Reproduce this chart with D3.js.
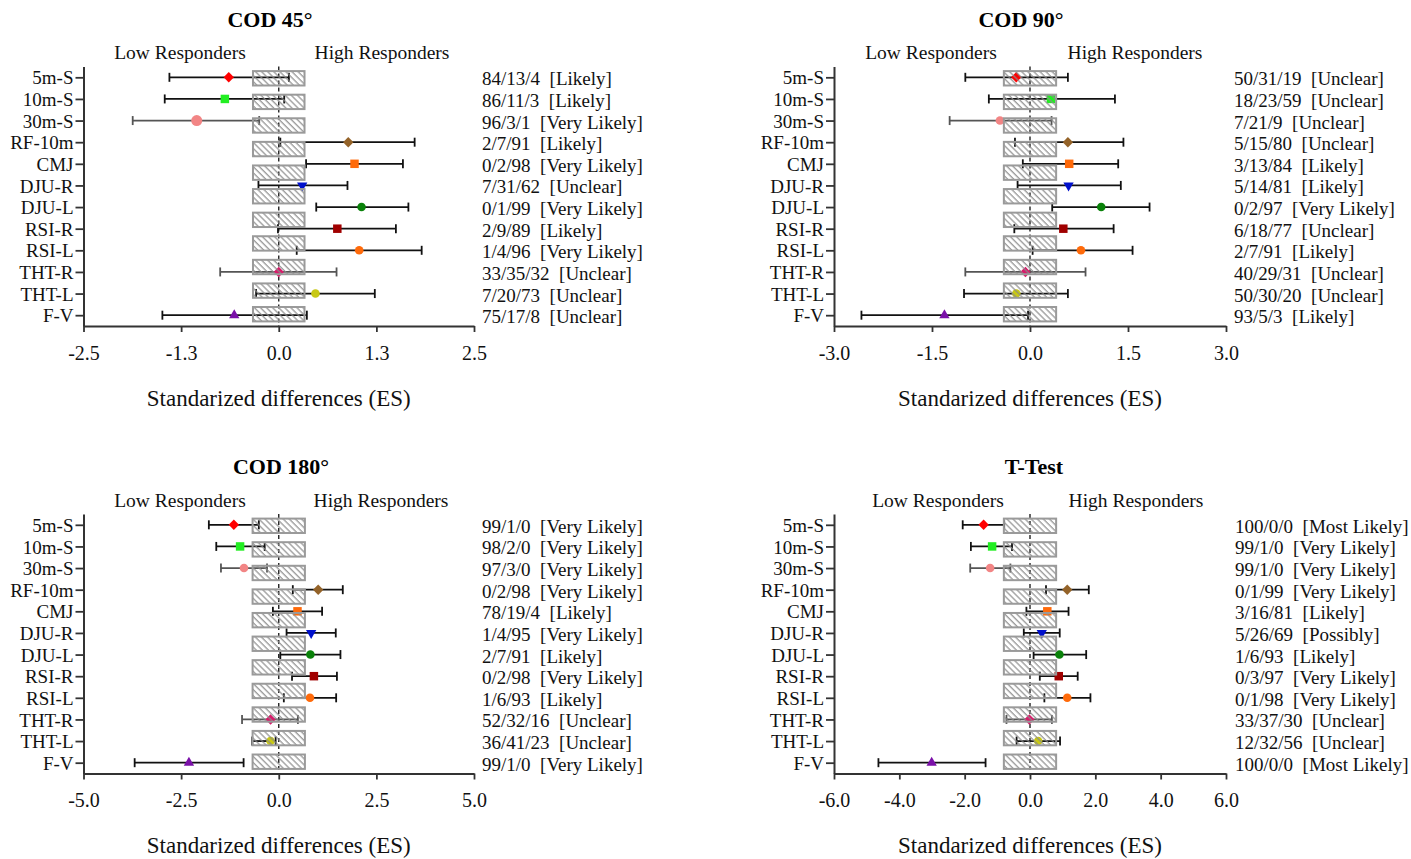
<!DOCTYPE html>
<html><head><meta charset="utf-8">
<script src="https://cdn.jsdelivr.net/npm/d3@7"></script>
<style>body{margin:0;background:#fff;} svg{display:block;}</style>
</head><body>
<script>
// ---------- data ----------
const categories = ["5m-S","10m-S","30m-S","RF-10m","CMJ","DJU-R","DJU-L","RSI-R","RSI-L","THT-R","THT-L","F-V"];
const panelTitles = ["COD 45°","COD 90°","COD 180°","T-Test"];

const cod45_es = [-0.64,-0.69,-1.05,0.89,0.97,0.30,1.06,0.75,1.03,0.00,0.47,-0.57];
const cod45_lo = [-1.40,-1.46,-1.87,0.02,0.35,-0.26,0.48,-0.01,0.23,-0.75,-0.29,-1.49];
const cod45_hi = [0.13,0.07,-0.25,1.74,1.59,0.88,1.66,1.50,1.83,0.74,1.23,0.36];
const cod45_text = ["84/13/4  [Likely]","86/11/3  [Likely]","96/3/1  [Very Likely]","2/7/91  [Likely]","0/2/98  [Very Likely]","7/31/62  [Unclear]","0/1/99  [Very Likely]","2/9/89  [Likely]","1/4/96  [Very Likely]","33/35/32  [Unclear]","7/20/73  [Unclear]","75/17/8  [Unclear]"];

const cod90_es = [-0.21,0.32,-0.46,0.58,0.60,0.59,1.09,0.51,0.78,-0.07,-0.21,-1.31];
const cod90_lo = [-0.99,-0.63,-1.23,-0.23,-0.11,-0.19,0.34,-0.24,0.04,-0.99,-1.01,-2.58];
const cod90_hi = [0.58,1.30,0.33,1.43,1.35,1.39,1.83,1.28,1.57,0.85,0.58,-0.03];
const cod90_text = ["50/31/19  [Unclear]","18/23/59  [Unclear]","7/21/9  [Unclear]","5/15/80  [Unclear]","3/13/84  [Likely]","5/14/81  [Likely]","0/2/97  [Very Likely]","6/18/77  [Unclear]","2/7/91  [Likely]","40/29/31  [Unclear]","50/30/20  [Unclear]","93/5/3  [Likely]"];

const cod180_es = [-1.15,-0.99,-0.89,1.01,0.48,0.83,0.81,0.90,0.80,-0.21,-0.21,-2.30];
const cod180_lo = [-1.79,-1.60,-1.48,0.36,-0.15,0.20,0.04,0.34,0.13,-0.94,-0.68,-3.69];
const cod180_hi = [-0.51,-0.36,-0.30,1.64,1.11,1.46,1.58,1.49,1.47,0.49,-0.08,-0.90];
const cod180_text = ["99/1/0  [Very Likely]","98/2/0  [Very Likely]","97/3/0  [Very Likely]","0/2/98  [Very Likely]","78/19/4  [Likely]","1/4/95  [Very Likely]","2/7/91  [Likely]","0/2/98  [Very Likely]","1/6/93  [Likely]","52/32/16  [Unclear]","36/41/23  [Unclear]","99/1/0  [Very Likely]"];

const ttest_es = [-1.42,-1.16,-1.22,1.14,0.53,0.36,0.90,0.88,1.14,-0.02,0.25,-3.01];
const ttest_lo = [-2.06,-1.81,-1.83,0.49,-0.11,-0.19,0.11,0.30,0.44,-0.72,-0.41,-4.64];
const ttest_hi = [-0.79,-0.55,-0.60,1.80,1.18,0.91,1.72,1.46,1.85,0.67,0.92,-1.36];
const ttest_text = ["100/0/0  [Most Likely]","99/1/0  [Very Likely]","99/1/0  [Very Likely]","0/1/99  [Very Likely]","3/16/81  [Likely]","5/26/69  [Possibly]","1/6/93  [Likely]","0/3/97  [Very Likely]","0/1/98  [Very Likely]","33/37/30  [Unclear]","12/32/56  [Unclear]","100/0/0  [Most Likely]"];

const cod45_ticks = [-2.5,-1.25,0,1.25,2.5];
const cod45_tickLabels = ["-2.5","-1.3","0.0","1.3","2.5"];
const cod90_ticks = [-3,-1.5,0,1.5,3];
const cod90_tickLabels = ["-3.0","-1.5","0.0","1.5","3.0"];
const cod180_ticks = [-5,-2.5,0,2.5,5];
const cod180_tickLabels = ["-5.0","-2.5","0.0","2.5","5.0"];
const ttest_ticks = [-6,-4,-2,0,2,4,6];
const ttest_tickLabels = ["-6.0","-4.0","-2.0","0.0","2.0","4.0","6.0"];

const trivialZone = [0.33, 0.40, 0.67, 0.80];   // half-width of trivial (hatched) zone per panel
const zoneBands = 11;                            // number of hatched boxes drawn per panel
const axisTitle = "Standarized differences (ES)";
const lowLabel = "Low Responders", highLabel = "High Responders";

// ---------- styling ----------
const markerStyle = {
  "5m-S":  {shape:"diamond", color:"#ff0000"},
  "10m-S": {shape:"square",  color:"#22ee22"},
  "30m-S": {shape:"circle",  color:"#f28585"},
  "RF-10m":{shape:"diamond", color:"#946329"},
  "CMJ":   {shape:"square",  color:"#ff6a0a"},
  "DJU-R": {shape:"tridown", color:"#0010cc"},
  "DJU-L": {shape:"circle",  color:"#0a820a"},
  "RSI-R": {shape:"square",  color:"#a00000"},
  "RSI-L": {shape:"circle",  color:"#ff6a0a"},
  "THT-R": {shape:"diamond", color:"#d81b6a"},
  "THT-L": {shape:"circle",  color:"#c8c814"},
  "F-V":   {shape:"triup",   color:"#7a10a8"}
};
const lineColor = {"30m-S":"#555","THT-R":"#555"};
const FONT = "'Liberation Serif','Times New Roman',serif";

const panels = [
  {title:panelTitles[0], es:cod45_es, lo:cod45_lo, hi:cod45_hi, text:cod45_text, ticks:cod45_ticks, tickLabels:cod45_tickLabels, zone:trivialZone[0],
   x0:83.5, x1:474, top:66.5, bottom:326, titleX:270, lowX:180, highX:382, textX:482, bigCircle:true},
  {title:panelTitles[1], es:cod90_es, lo:cod90_lo, hi:cod90_hi, text:cod90_text, ticks:cod90_ticks, tickLabels:cod90_tickLabels, zone:trivialZone[1],
   x0:834, x1:1226, top:66.5, bottom:326, titleX:1021, lowX:931, highX:1135, textX:1234},
  {title:panelTitles[2], es:cod180_es, lo:cod180_lo, hi:cod180_hi, text:cod180_text, ticks:cod180_ticks, tickLabels:cod180_tickLabels, zone:trivialZone[2],
   x0:83.5, x1:474, top:514, bottom:773.5, titleX:281, lowX:180, highX:381, textX:482},
  {title:panelTitles[3], es:ttest_es, lo:ttest_lo, hi:ttest_hi, text:ttest_text, ticks:ttest_ticks, tickLabels:ttest_tickLabels, zone:trivialZone[3],
   x0:834, x1:1226, top:514, bottom:773.5, titleX:1034, lowX:938, highX:1136, textX:1235}
];

const svg = d3.select("body").append("svg").attr("width",1411).attr("height",859)
  .style("font-family",FONT);
svg.append("rect").attr("width",1411).attr("height",859).attr("fill","#fff");

const defs = svg.append("defs");
const pat = defs.append("pattern").attr("id","hatch").attr("patternUnits","userSpaceOnUse")
  .attr("width",4.3).attr("height",4.3).attr("patternTransform","rotate(-45)");
pat.append("line").attr("x1",1).attr("y1",0).attr("x2",1).attr("y2",4.3)
  .attr("stroke","#8a8a8a").attr("stroke-width",1.15);

function markerPath(shape, big) {
  if (shape === "diamond") { const s = 5.2; return `M0,${-s}L${s},0L0,${s}L${-s},0Z`; }
  if (shape === "square") return d3.symbol(d3.symbolSquare, 72)();
  if (shape === "circle") return d3.symbol(d3.symbolCircle, big ? 95 : 58)();
  if (shape === "triup") return d3.symbol(d3.symbolTriangle, 46)();
  if (shape === "tridown") return d3.symbol(d3.symbolTriangle, 46)();
}

panels.forEach(p => {
  const g = svg.append("g");
  const x = d3.scaleLinear().domain([p.ticks[0], p.ticks[p.ticks.length-1]]).range([p.x0, p.x1]);
  const y = d3.scalePoint().domain(categories).range([p.top, p.bottom]).padding(0.5);
  const yb = d3.scaleBand().domain(d3.range(zoneBands)).range([p.top, p.bottom]).paddingInner(0.39).paddingOuter(0.195);

  // title & group labels
  g.append("text").attr("x",p.titleX).attr("y",p.top-47.5).attr("text-anchor","middle")
    .attr("dominant-baseline","central").attr("font-weight","bold").attr("font-size",22).attr("fill","#000").text(p.title);
  g.append("text").attr("x",p.lowX).attr("y",p.top-14).attr("text-anchor","middle")
    .attr("dominant-baseline","central").attr("font-size",19.5).attr("fill","#111").text(lowLabel);
  g.append("text").attr("x",p.highX).attr("y",p.top-14).attr("text-anchor","middle")
    .attr("dominant-baseline","central").attr("font-size",19.5).attr("fill","#111").text(highLabel);

  // zero line
  g.append("line").attr("x1",x(0)).attr("x2",x(0)).attr("y1",p.top).attr("y2",p.bottom)
    .attr("stroke","#222").attr("stroke-width",1.4).attr("stroke-dasharray","4,3");

  // error bars
  const rows = categories.map((c,i) => ({c, es:p.es[i], lo:p.lo[i], hi:p.hi[i], t:p.text[i]}));
  const eb = g.append("g").selectAll("g").data(rows).join("g")
    .attr("stroke", d => lineColor[d.c] || "#111").attr("stroke-width",1.8);
  eb.append("line").attr("x1",d=>x(d.lo)).attr("x2",d=>x(d.hi)).attr("y1",d=>y(d.c)).attr("y2",d=>y(d.c));
  eb.append("line").attr("x1",d=>x(d.lo)).attr("x2",d=>x(d.lo)).attr("y1",d=>y(d.c)-4.5).attr("y2",d=>y(d.c)+4.5);
  eb.append("line").attr("x1",d=>x(d.hi)).attr("x2",d=>x(d.hi)).attr("y1",d=>y(d.c)-4.5).attr("y2",d=>y(d.c)+4.5);

  // markers
  g.append("g").selectAll("path").data(rows).join("path")
    .attr("d", d => markerPath(markerStyle[d.c].shape, p.bigCircle && d.c === "30m-S"))
    .attr("transform", d => `translate(${x(d.es)},${y(d.c)})` + (markerStyle[d.c].shape === "tridown" ? " rotate(180)" : ""))
    .attr("fill", d => markerStyle[d.c].color);

  // hatched trivial-zone boxes (drawn over lines)
  g.append("g").selectAll("rect").data(d3.range(zoneBands)).join("rect")
    .attr("x", x(-p.zone)).attr("width", x(p.zone) - x(-p.zone))
    .attr("y", d => yb(d)).attr("height", yb.bandwidth())
    .attr("fill","url(#hatch)").attr("stroke","#9a9a9a").attr("stroke-width",2);

  // x axis
  const xa = g.append("g").attr("transform",`translate(0,${p.bottom})`)
    .call(d3.axisBottom(x).tickValues(p.ticks).tickFormat((d,i)=>p.tickLabels[i]).tickSize(6).tickSizeOuter(0));
  xa.select(".domain").attr("stroke","#333").attr("stroke-width",2);
  xa.selectAll(".tick line").attr("stroke","#333").attr("stroke-width",1.8);
  xa.selectAll(".tick text").attr("y",26.5).attr("dy","0.35em").attr("font-size",20)
    .attr("font-family",FONT).attr("fill","#111");

  // y axis
  const ya = g.append("g").attr("transform",`translate(${p.x0},0)`)
    .call(d3.axisLeft(y).tickSize(8).tickSizeOuter(0));
  ya.select(".domain").attr("stroke","#333").attr("stroke-width",2);
  ya.selectAll(".tick line").attr("stroke","#333").attr("stroke-width",1.8);
  ya.selectAll(".tick text").attr("x",-10).attr("dy","0.35em").attr("font-size",19)
    .attr("font-family",FONT).attr("fill","#111");

  // right-side texts
  g.append("g").selectAll("text").data(rows).join("text")
    .attr("x", p.textX).attr("y", d => y(d.c) + 1.5).attr("dominant-baseline","central")
    .attr("font-size",19).attr("fill","#111").style("white-space","pre").text(d => d.t);

  // axis title
  g.append("text").attr("x",(p.x0+p.x1)/2).attr("y",p.bottom+72).attr("text-anchor","middle")
    .attr("dominant-baseline","central").attr("font-size",23).attr("fill","#111").text(axisTitle);
});
</script>
</body></html>
